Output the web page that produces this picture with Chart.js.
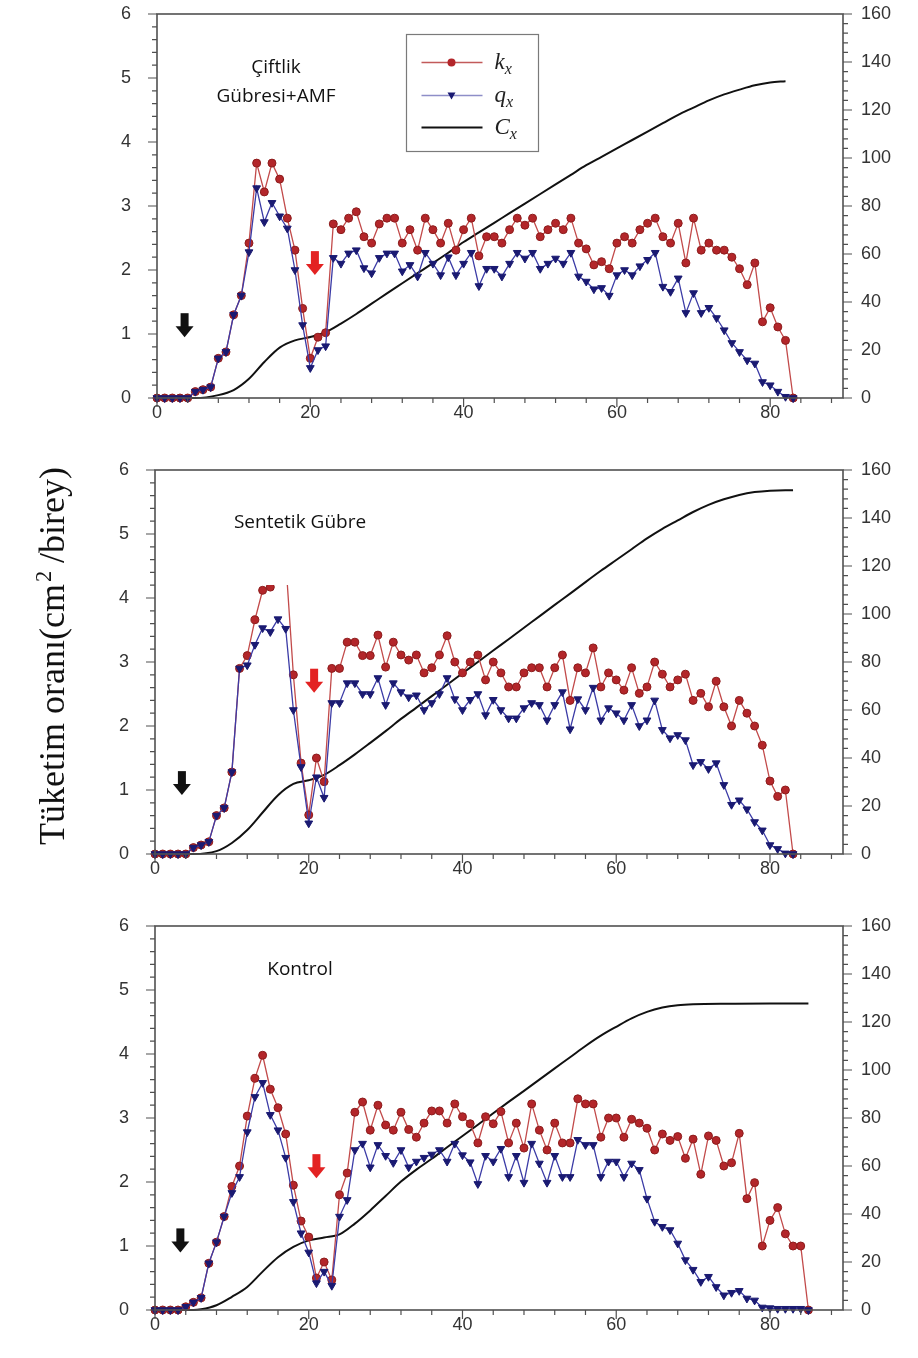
<!DOCTYPE html>
<html lang="tr">
<head>
    <meta charset="UTF-8">
    <title>Tüketim oranı</title>
    <script src="https://cdn.jsdelivr.net/npm/chart.js@4.4.0/dist/chart.umd.min.js"></script>
    <style>
        body {
            margin: 0;
            background: #fff;
        }
        .wrap {
            position: relative;
            width: 918px;
            height: 1358px;
            overflow: hidden;
        }
        .wrap canvas {
            position: absolute;
            left: 0;
        }
        .ytitle {
            position: absolute;
            left: -176px;
            top: 636px;
            width: 440px;
            height: 40px;
            line-height: 40px;
            text-align: center;
            font-family: "Liberation Serif", "Times New Roman", serif;
            font-size: 36px;
            color: #111;
            transform: rotate(-90deg);
            white-space: nowrap;
        }
        .ytitle sup {
            font-size: 0.62em;
            margin-left: 2px;
            margin-right: 8px;
        }
    </style>
</head>
<body>
    <div class="wrap">
        <canvas id="c1" width="918" height="456" style="top:0px"></canvas>
        <canvas id="c2" width="918" height="456" style="top:456px"></canvas>
        <canvas id="c3" width="918" height="456" style="top:912px"></canvas>
        <div class="ytitle">Tüketim oranı(cm<sup>2</sup>/birey)</div>
    </div>

    <script>
        // values, one point per day (index = day)
        const kx1 = [0, 0, 0, 0, 0, 0.1, 0.13, 0.17, 0.62, 0.72, 1.3, 1.6, 2.42, 3.67, 3.22, 3.67, 3.42, 2.81, 2.31, 1.4,
            0.62, 0.95, 1.02, 2.72, 2.63, 2.81, 2.91, 2.52, 2.42, 2.72, 2.81, 2.81, 2.42, 2.63, 2.31, 2.81, 2.63, 2.42, 2.73, 2.31,
            2.63, 2.81, 2.22, 2.52, 2.52, 2.42, 2.63, 2.81, 2.7, 2.81, 2.52, 2.63, 2.73, 2.63, 2.81, 2.42, 2.33, 2.08, 2.13, 2.02,
            2.42, 2.52, 2.42, 2.63, 2.73, 2.81, 2.52, 2.42, 2.73, 2.11, 2.81, 2.31, 2.42, 2.31, 2.31, 2.2, 2.02, 1.77, 2.11, 1.19,
            1.41, 1.11, 0.9, 0];
        const qx1 = [0, 0, 0, 0, 0, 0.1, 0.13, 0.17, 0.62, 0.72, 1.3, 1.6, 2.28, 3.28, 2.75, 3.05, 2.84, 2.65, 2.0, 1.14,
            0.47, 0.75, 0.81, 2.19, 2.1, 2.26, 2.31, 2.03, 1.95, 2.19, 2.26, 2.26, 1.98, 2.08, 1.9, 2.27, 2.1, 1.92, 2.2, 1.92,
            2.1, 2.27, 1.75, 2.02, 2.02, 1.9, 2.1, 2.27, 2.18, 2.27, 2.02, 2.1, 2.18, 2.1, 2.27, 1.9, 1.82, 1.7, 1.72, 1.6,
            1.92, 2.0, 1.92, 2.06, 2.16, 2.27, 1.74, 1.66, 1.87, 1.33, 1.64, 1.33, 1.41, 1.25, 1.06, 0.86, 0.72, 0.59, 0.54, 0.25,
            0.2, 0.1, 0.02, 0];
        const cxDays1 = [0, 5, 8, 10, 12, 14, 16, 18, 20, 22, 24, 26, 28, 30, 32, 34, 36, 38, 40, 42, 44, 46, 48, 50, 52,
            54, 56, 58, 60, 62, 64, 66, 68, 70, 72, 74, 76, 78, 80, 82];
        const cx1 = [0, 0, 1.2, 3.3, 8, 15, 21, 24, 25.4, 27.4, 31, 35, 39.3, 43.6, 47.8, 52, 56.2, 60.5, 65, 69, 73, 77, 81, 85, 89,
            93, 97, 100.5, 104, 107.5, 111, 114.5, 118, 121, 124, 126.5, 128.5, 130.3, 131.5, 132];

        const kx2 = [0, 0, 0, 0, 0, 0.1, 0.14, 0.19, 0.6, 0.72, 1.28, 2.9, 3.1, 3.66, 4.12, 4.17, 4.45, 4.6, 2.8, 1.42,
            0.61, 1.5, 1.13, 2.9, 2.9, 3.31, 3.31, 3.1, 3.1, 3.42, 2.92, 3.31, 3.11, 3.03, 3.11, 2.83, 2.91, 3.11, 3.41, 3.0,
            2.83, 3.0, 3.11, 2.72, 3.0, 2.83, 2.61, 2.61, 2.83, 2.91, 2.91, 2.61, 2.91, 3.11, 2.4, 2.91, 2.83, 3.22, 2.61, 2.83,
            2.72, 2.56, 2.91, 2.51, 2.61, 3.0, 2.81, 2.61, 2.72, 2.81, 2.4, 2.51, 2.3, 2.7, 2.3, 2.0, 2.4, 2.2, 2.0, 1.7,
            1.14, 0.9, 1.0, 0];
        const qx2 = [0, 0, 0, 0, 0, 0.1, 0.14, 0.19, 0.6, 0.72, 1.28, 2.9, 2.95, 3.27, 3.53, 3.47, 3.67, 3.52, 2.25, 1.36,
            0.48, 1.2, 0.88, 2.36, 2.36, 2.67, 2.67, 2.5, 2.5, 2.75, 2.33, 2.67, 2.53, 2.45, 2.48, 2.25, 2.36, 2.5, 2.75, 2.42,
            2.25, 2.41, 2.5, 2.17, 2.41, 2.25, 2.12, 2.12, 2.28, 2.36, 2.33, 2.09, 2.33, 2.53, 1.95, 2.42, 2.25, 2.6, 2.09, 2.28,
            2.2, 2.09, 2.33, 2.0, 2.09, 2.4, 1.94, 1.81, 1.86, 1.78, 1.39, 1.44, 1.33, 1.42, 1.08, 0.77, 0.84, 0.7, 0.5, 0.37,
            0.14, 0.08, 0.01, 0];
        const cxDays2 = [0, 5, 8, 10, 12, 14, 16, 18, 20, 22, 24, 26, 28, 30, 32, 34, 36, 38, 40, 42, 44, 46, 48, 50, 52,
            54, 56, 58, 60, 62, 64, 66, 68, 70, 72, 74, 76, 78, 80, 82, 83];
        const cx2 = [0, 0, 1.2, 4.6, 10, 17.3, 24.5, 29.2, 30.7, 33, 37, 41.5, 46.3, 51.2, 56.3, 61, 65.8, 70.5, 75.3, 80, 84.8,
            89.5, 94.3, 99, 103.8, 108.5, 113.3, 118, 122.5, 127, 131.5, 135.5, 139, 142.5, 145.5, 147.8, 149.6, 150.8, 151.4,
            151.6, 151.6];

        const kx3 = [0, 0, 0, 0, 0.05, 0.12, 0.19, 0.73, 1.06, 1.46, 1.93, 2.25, 3.03, 3.62, 3.98, 3.45, 3.16, 2.75, 1.95, 1.39,
            1.14, 0.5, 0.75, 0.47, 1.8, 2.14, 3.09, 3.25, 2.81, 3.2, 2.89, 2.81, 3.09, 2.82, 2.7, 2.92, 3.11, 3.11, 2.92, 3.22,
            3.02, 2.91, 2.61, 3.02, 2.91, 3.1, 2.61, 2.92, 2.53, 3.22, 2.81, 2.5, 2.92, 2.61, 2.61, 3.3, 3.22, 3.22, 2.7, 3.0,
            3.0, 2.7, 2.98, 2.92, 2.84, 2.5, 2.75, 2.65, 2.71, 2.37, 2.67, 2.12, 2.72, 2.65, 2.25, 2.3, 2.76, 1.74, 1.99, 1.0,
            1.4, 1.6, 1.19, 1.0, 1.0, 0];
        const qx3 = [0, 0, 0, 0, 0.05, 0.12, 0.19, 0.73, 1.06, 1.46, 1.83, 2.08, 2.78, 3.33, 3.55, 3.05, 2.81, 2.38, 1.69, 1.2,
            0.9, 0.42, 0.6, 0.38, 1.46, 1.72, 2.5, 2.6, 2.23, 2.58, 2.41, 2.3, 2.5, 2.23, 2.32, 2.38, 2.43, 2.5, 2.32, 2.6,
            2.42, 2.31, 1.97, 2.41, 2.32, 2.52, 2.08, 2.41, 1.99, 2.6, 2.29, 1.99, 2.41, 2.08, 2.08, 2.66, 2.58, 2.58, 2.08, 2.32,
            2.32, 2.08, 2.29, 2.19, 1.74, 1.38, 1.3, 1.25, 1.04, 0.78, 0.63, 0.44, 0.52, 0.36, 0.23, 0.27, 0.3, 0.18, 0.15, 0.04,
            0.03, 0.02, 0.02, 0.02, 0.02, 0];
        const cxDays3 = [0, 5, 6, 8, 10, 12, 14, 16, 18, 20, 22, 24, 26, 28, 30, 32, 34, 36, 38, 40, 42, 44, 46, 48, 50,
            52, 54, 56, 58, 60, 62, 64, 66, 68, 70, 75, 80, 85];
        const cx3 = [0, 0, 0.3, 2, 5.5, 9.6, 16, 22, 26.3, 29, 30.2, 31.5, 36, 41.5, 47.5, 53.5, 58.5, 63, 67.8, 72.5, 77.2,
            82, 86.7, 91.3, 96, 100.7, 105.3, 110, 114.3, 118, 121.5, 124.2, 126, 127, 127.4, 127.6, 127.7, 127.7];

        const leftTicks = [0, 1, 2, 3, 4, 5, 6];
        const rightTicks = [0, 20, 40, 60, 80, 100, 120, 140, 160];
        const dayTicks = [0, 20, 40, 60, 80];
        const seriesNames = ['k', 'q', 'C'];

        const RED_LINE = '#c24a4a';
        const RED_DOT = '#b3262a';
        const BLUE_LINE = '#3b3ba6';
        const BLUE_DOT = '#1a1a72';
        const TICK_FONT = { family: 'Liberation Sans, Arial, sans-serif', size: 18 };

        function byDay(vals) {
            return vals.map((v, i) => ({ x: i, y: v }));
        }

        function pairs(days, vals) {
            return days.map((d, i) => ({ x: d, y: vals[i] }));
        }

        // arrow pointing down, tip at (px, py)
        function drawArrow(ctx, px, py, color) {
            ctx.fillStyle = color;
            ctx.beginPath();
            ctx.moveTo(px - 9, py - 11);
            ctx.lineTo(px + 9, py - 11);
            ctx.lineTo(px, py);
            ctx.closePath();
            ctx.fill();
            ctx.fillRect(px - 4, py - 24, 8, 14);
        }

        function subLabel(ctx, main, x, y) {
            ctx.fillStyle = '#222';
            ctx.textAlign = 'left';
            ctx.textBaseline = 'alphabetic';
            ctx.font = 'italic 23px "Liberation Serif", serif';
            ctx.fillText(main, x, y);
            const w = ctx.measureText(main).width;
            ctx.font = 'italic 16px "Liberation Serif", serif';
            ctx.fillText('x', x + w, y + 5);
        }

        function makeDecor(cfg) {
            return {
                id: 'decor',
                afterDatasetsDraw(chart) {
                    if (!cfg.mask) return;
                    const m = cfg.mask;
                    chart.ctx.save();
                    chart.ctx.fillStyle = '#fff';
                    chart.ctx.fillRect(m.x, m.y, m.w, m.h);
                    chart.ctx.restore();
                },
                afterDraw(chart) {
                    const { ctx, chartArea: a, scales } = chart;
                    const x = scales.x, y = scales.y, y2 = scales.y2;
                    ctx.save();

                    // frame
                    ctx.strokeStyle = '#505050';
                    ctx.lineWidth = 1.6;
                    ctx.strokeRect(a.left, a.top, a.right - a.left, a.bottom - a.top);

                    // major and minor tick marks
                    ctx.lineWidth = 1.2;
                    ctx.beginPath();
                    for (let d = 0; d <= 88; d += 4) {
                        const px = x.getPixelForValue(d);
                        const len = d % 20 === 0 ? 9 : 5;
                        ctx.moveTo(px, a.bottom);
                        ctx.lineTo(px, a.bottom + len);
                    }
                    for (let i = 0; i <= 30; i++) {
                        const py = y.getPixelForValue(i / 5);
                        const len = i % 5 === 0 ? 9 : 5;
                        ctx.moveTo(a.left - len, py);
                        ctx.lineTo(a.left, py);
                    }
                    for (let v = 0; v <= 160; v += 4) {
                        const py = y2.getPixelForValue(v);
                        const len = v % 20 === 0 ? 9 : 5;
                        ctx.moveTo(a.right, py);
                        ctx.lineTo(a.right + len, py);
                    }
                    ctx.stroke();

                    // panel label
                    ctx.fillStyle = '#111';
                    ctx.font = '19px "Open Sans", sans-serif';
                    ctx.textAlign = 'center';
                    ctx.textBaseline = 'middle';
                    cfg.label.forEach((t, i) => ctx.fillText(t, cfg.labelX, cfg.labelY + i * 29));

                    // arrows
                    cfg.arrows.forEach(ar => {
                        drawArrow(ctx, x.getPixelForValue(ar.day), y.getPixelForValue(ar.tip), ar.color);
                    });

                    // legend box
                    if (cfg.legend) {
                        const L = cfg.legend;
                        ctx.strokeStyle = '#7a7a7a';
                        ctx.lineWidth = 1.2;
                        ctx.strokeRect(L.x, L.y, L.w, L.h);
                        const rows = [L.y + 28, L.y + 61, L.y + 93];
                        const x0 = L.x + 15, x1 = L.x + 76, xm = L.x + 45;

                        ctx.lineWidth = 1.6;
                        ctx.strokeStyle = '#c25a5a';
                        ctx.beginPath(); ctx.moveTo(x0, rows[0]); ctx.lineTo(x1, rows[0]); ctx.stroke();
                        ctx.fillStyle = RED_DOT;
                        ctx.beginPath(); ctx.arc(xm, rows[0], 4, 0, Math.PI * 2); ctx.fill();

                        ctx.strokeStyle = '#8e8ec8';
                        ctx.beginPath(); ctx.moveTo(x0, rows[1]); ctx.lineTo(x1, rows[1]); ctx.stroke();
                        ctx.fillStyle = BLUE_DOT;
                        ctx.beginPath();
                        ctx.moveTo(xm - 4, rows[1] - 3); ctx.lineTo(xm + 4, rows[1] - 3); ctx.lineTo(xm, rows[1] + 4);
                        ctx.closePath(); ctx.fill();

                        ctx.strokeStyle = '#111';
                        ctx.lineWidth = 2;
                        ctx.beginPath(); ctx.moveTo(x0, rows[2]); ctx.lineTo(x1, rows[2]); ctx.stroke();

                        seriesNames.forEach((n, i) => subLabel(ctx, n, L.x + 88, rows[i] + 6));
                    }
                    ctx.restore();
                }
            };
        }

        // keep the plot box exactly where the reference has it
        function noPad(s) {
            s.paddingTop = 0;
            s.paddingBottom = 0;
            s.paddingLeft = 0;
            s.paddingRight = 0;
        }

        function makePanel(id, kx, qx, cxDays, cx, cfg) {
            const ctx = document.getElementById(id).getContext('2d');
            return new Chart(ctx, {
                type: 'line',
                data: {
                    datasets: [
                        {
                            label: 'qx',
                            data: byDay(qx),
                            yAxisID: 'y',
                            order: 0,
                            borderColor: BLUE_LINE,
                            borderWidth: 1.3,
                            pointStyle: 'triangle',
                            pointRotation: 180,
                            pointRadius: 4.5,
                            pointBackgroundColor: BLUE_DOT,
                            pointBorderColor: BLUE_DOT,
                            pointBorderWidth: 1,
                            clip: false
                        },
                        {
                            label: 'kx',
                            data: byDay(kx),
                            yAxisID: 'y',
                            order: 1,
                            borderColor: RED_LINE,
                            borderWidth: 1.3,
                            pointStyle: 'circle',
                            pointRadius: 4,
                            pointBackgroundColor: RED_DOT,
                            pointBorderColor: '#8c1c1c',
                            pointBorderWidth: 1,
                            clip: false
                        },
                        {
                            label: 'Cx',
                            data: pairs(cxDays, cx),
                            yAxisID: 'y2',
                            order: 2,
                            borderColor: '#111',
                            borderWidth: 2,
                            pointRadius: 0,
                            cubicInterpolationMode: 'monotone',
                            clip: false
                        }
                    ]
                },
                options: {
                    responsive: false,
                    animation: false,
                    layout: { padding: { top: 14, left: 0, right: 0, bottom: 0 } },
                    plugins: {
                        legend: { display: false },
                        tooltip: { enabled: false }
                    },
                    scales: {
                        x: {
                            type: 'linear',
                            min: 0,
                            max: 89.5,
                            grid: { display: false, drawTicks: false },
                            border: { display: false },
                            afterBuildTicks: s => { s.ticks = dayTicks.map(v => ({ value: v })); },
                            afterFit: s => { s.height = 58; noPad(s); },
                            ticks: { font: TICK_FONT, color: '#333', padding: 4, maxRotation: 0 }
                        },
                        y: {
                            position: 'left',
                            min: 0,
                            max: 6,
                            grid: { display: false, drawTicks: false },
                            border: { display: false },
                            afterBuildTicks: s => { s.ticks = leftTicks.map(v => ({ value: v })); },
                            afterFit: s => { s.width = cfg.left; noPad(s); },
                            ticks: { font: TICK_FONT, color: '#333', padding: 26 }
                        },
                        y2: {
                            position: 'right',
                            min: 0,
                            max: 160,
                            grid: { display: false, drawTicks: false },
                            border: { display: false },
                            afterBuildTicks: s => { s.ticks = rightTicks.map(v => ({ value: v })); },
                            afterFit: s => { s.width = 75; noPad(s); },
                            ticks: { font: TICK_FONT, color: '#333', padding: 18 }
                        }
                    }
                },
                plugins: [makeDecor(cfg)]
            });
        }

        window.onload = function () {
            makePanel('c1', kx1, qx1, cxDays1, cx1, {
                left: 157,
                label: ['Çiftlik', 'Gübresi+AMF'],
                labelX: 276, labelY: 68,
                arrows: [
                    { day: 3.6, tip: 0.95, color: '#111' },
                    { day: 20.6, tip: 1.92, color: '#e32222' }
                ],
                legend: { x: 406.5, y: 34.5, w: 132, h: 117 }
            });
            makePanel('c2', kx2, qx2, cxDays2, cx2, {
                left: 155,
                label: ['Sentetik Gübre'],
                labelX: 300, labelY: 67,
                arrows: [
                    { day: 3.5, tip: 0.92, color: '#111' },
                    { day: 20.7, tip: 2.52, color: '#e32222' }
                ],
                mask: { x: 160, y: 16, w: 280, h: 113 }
            });
            makePanel('c3', kx3, qx3, cxDays3, cx3, {
                left: 155,
                label: ['Kontrol'],
                labelX: 300, labelY: 58,
                arrows: [
                    { day: 3.3, tip: 0.9, color: '#111' },
                    { day: 21, tip: 2.06, color: '#e32222' }
                ]
            });
        };
    </script>
</body>
</html>
